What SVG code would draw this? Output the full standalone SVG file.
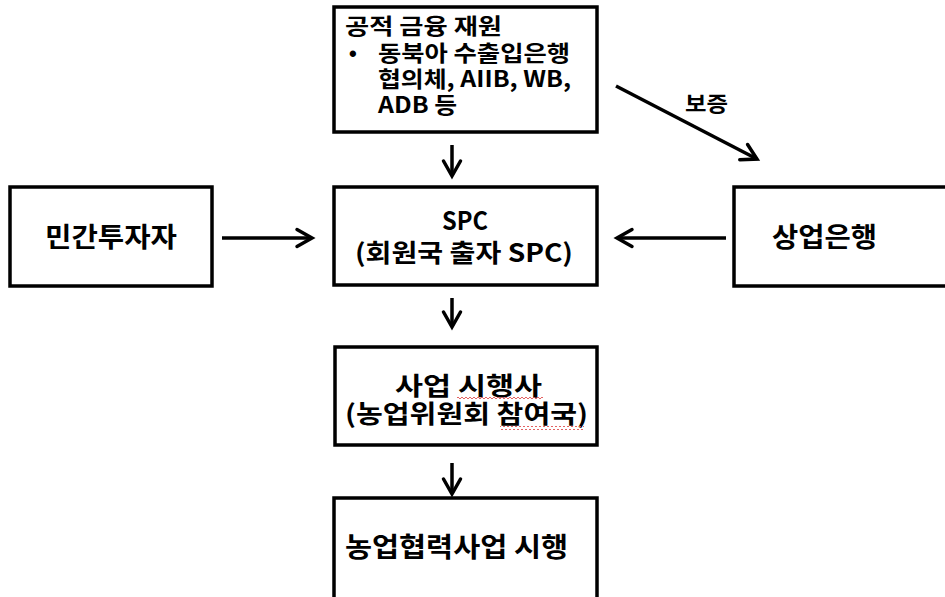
<svg xmlns="http://www.w3.org/2000/svg" width="945" height="597" viewBox="0 0 945 597">
  <style>
    .box { fill: #ffffff; stroke: #000000; stroke-width: 3.5; }
    .t { font-family: "Noto Sans CJK KR", "Noto Sans", sans-serif; font-weight: bold; fill: #000000; }
    .lbl { font-family: "Noto Sans CJK KR", "Noto Sans", sans-serif; font-weight: bold; fill: #000000; font-size: 21px; }
    .edge { stroke: #000000; stroke-width: 3.5; fill: none; marker-end: url(#head); }
  </style>
  <defs>
    <marker id="head" markerUnits="userSpaceOnUse" viewBox="-20 -12 24 24" refX="0" refY="0" markerWidth="24" markerHeight="24" orient="auto">
      <path d="M-15,-8.5 L0,0 L-15,8.5" fill="none" stroke="#000000" stroke-width="3.5" stroke-linecap="round" stroke-linejoin="miter"/>
    </marker>
    <pattern id="squiggle" patternUnits="userSpaceOnUse" x="0" y="0" width="4" height="4">
      <path d="M0,3 L2,1 L4,3" fill="none" stroke="#e05050" stroke-width="0.9"/>
    </pattern>
  </defs>

  <rect width="945" height="597" fill="#ffffff"/>

  <!-- connectors -->
  <g id="connectors">
    <line class="edge" x1="452" y1="145" x2="452" y2="176"/>
    <line class="edge" x1="222" y1="238" x2="312" y2="238"/>
    <line class="edge" x1="726" y1="238" x2="617" y2="238"/>
    <line class="edge" x1="452" y1="298" x2="452" y2="327"/>
    <line class="edge" x1="452" y1="463" x2="452" y2="494"/>
    <line class="edge" x1="616" y1="86" x2="757" y2="159"/>
    <text class="lbl" x="685" y="111" textLength="43" lengthAdjust="spacingAndGlyphs">보증</text>
  </g>

  <!-- public finance sources -->
  <g id="public-finance">
    <rect class="box" x="334" y="7" width="263" height="125"/>
    <text class="t" font-size="22">
      <tspan x="345" y="34" textLength="157" lengthAdjust="spacingAndGlyphs">공적 금융 재원</tspan>
      <tspan x="349" y="61" font-family="Liberation Sans, sans-serif">•</tspan>
      <tspan x="378" y="61" textLength="192" lengthAdjust="spacingAndGlyphs">동북아 수출입은행</tspan>
      <tspan x="378" y="87" textLength="193" lengthAdjust="spacingAndGlyphs">협의체, AIIB, WB,</tspan>
      <tspan x="378" y="113" textLength="79" lengthAdjust="spacingAndGlyphs">ADB 등</tspan>
    </text>
  </g>

  <!-- private investors -->
  <g id="private-investor">
    <rect class="box" x="10" y="187" width="202" height="99"/>
    <text class="t" font-size="27" x="45" y="247" textLength="132" lengthAdjust="spacingAndGlyphs">민간투자자</text>
  </g>

  <!-- SPC -->
  <g id="spc">
    <rect class="box" x="334" y="187" width="263" height="98"/>
    <text class="t" font-size="25">
      <tspan x="442" y="230" textLength="46" lengthAdjust="spacingAndGlyphs">SPC</tspan>
      <tspan x="355" y="262" textLength="218" lengthAdjust="spacingAndGlyphs">(회원국 출자 SPC)</tspan>
    </text>
  </g>

  <!-- commercial banks -->
  <g id="commercial-bank">
    <rect class="box" x="734" y="187" width="220" height="99"/>
    <text class="t" font-size="27" x="772" y="247" textLength="105" lengthAdjust="spacingAndGlyphs">상업은행</text>
  </g>

  <!-- project operator -->
  <g id="operator">
    <rect class="box" x="335" y="347" width="262" height="98"/>
    <text class="t" font-size="25">
      <tspan x="395" y="395" textLength="147" lengthAdjust="spacingAndGlyphs">사업 시행사</tspan>
      <tspan x="345" y="423" textLength="243" lengthAdjust="spacingAndGlyphs">(농업위원회 참여국)</tspan>
    </text>
    <rect x="457" y="397" width="86" height="4" fill="url(#squiggle)"/>
    <rect x="500" y="426" width="84" height="4" fill="url(#squiggle)"/>
  </g>

  <!-- cooperation project execution -->
  <g id="execution">
    <rect class="box" x="334" y="498" width="263" height="110"/>
    <text class="t" font-size="27" x="345" y="557" textLength="223" lengthAdjust="spacingAndGlyphs">농업협력사업 시행</text>
  </g>
</svg>
